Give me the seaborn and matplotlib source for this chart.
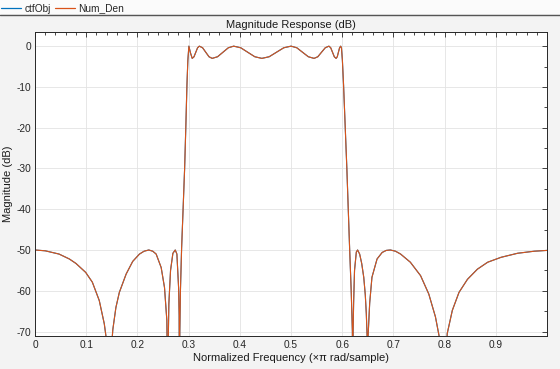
import numpy as np
import pandas as pd
import seaborn as sns
import matplotlib.pyplot as plt
from matplotlib.ticker import MultipleLocator
from matplotlib.lines import Line2D

# magnitude response (freq in xpi rad/sample, dB)
freq = [0.000, 0.020, 0.047, 0.067, 0.080, 0.099, 0.112, 0.1255, 0.1353, 0.1395,
        0.145, 0.1505, 0.152, 0.158, 0.1647, 0.178, 0.1908, 0.204, 0.213, 0.2222,
        0.230, 0.2366, 0.2464, 0.2529, 0.2575, 0.2595, 0.2605, 0.2614, 0.2647, 0.2693,
        0.2739, 0.2771, 0.2804, 0.2815, 0.2822, 0.2828, 0.2840, 0.2863, 0.2892, 0.2922,
        0.2945, 0.2967, 0.2985, 0.3005, 0.3035, 0.3070, 0.3105, 0.3140, 0.3175, 0.3210,
        0.3273, 0.3335, 0.3398, 0.3460, 0.3565, 0.3670, 0.3775, 0.3880, 0.4018, 0.4155,
        0.4293, 0.4430, 0.4573, 0.4715, 0.4858, 0.5000, 0.5113, 0.5225, 0.5338, 0.5450,
        0.5523, 0.5595, 0.5668, 0.5740, 0.5775, 0.5810, 0.5845, 0.5880, 0.5903, 0.5925,
        0.5948, 0.5970, 0.5985, 0.6003, 0.6026, 0.6090, 0.6144, 0.6175, 0.6198, 0.6205,
        0.6212, 0.6222, 0.6240, 0.6275, 0.6300, 0.6340, 0.6380, 0.6420, 0.6450, 0.6470,
        0.6485, 0.6495, 0.6505, 0.6536, 0.6580, 0.6680, 0.6780, 0.6860, 0.6940, 0.7040,
        0.7140, 0.7330, 0.7530, 0.7690, 0.7820, 0.7890, 0.7970, 0.8050, 0.8150, 0.8280,
        0.8445, 0.8640, 0.8840, 0.9100, 0.9425, 0.9750, 1.000]
mag_db = [-50.0, -50.2, -51.0, -52.2, -53.3, -55.5, -57.9, -62.4, -68.1, -72.0,
          -95.0, -72.0, -69.5, -64.1, -60.4, -55.9, -52.8, -51.0, -50.3, -50.0,
          -50.3, -51.0, -54.3, -59.2, -67.3, -95.0, -70.0, -63.2, -55.0, -50.8,
          -50.0, -51.0, -59.2, -66.0, -95.0, -70.0, -60.0, -49.6, -40.0, -30.0,
          -20.0, -9.6, -3.5, 0.0, -1.6, -3.0, -2.6, -1.5, -0.4, 0.0,
          -0.4, -1.5, -2.6, -3.0, -2.6, -1.5, -0.4, 0.0, -0.4, -1.5,
          -2.6, -3.0, -2.6, -1.5, -0.4, 0.0, -0.4, -1.5, -2.6, -3.0,
          -2.6, -1.5, -0.4, 0.0, -0.4, -1.5, -2.6, -3.0, -2.6, -1.5,
          -0.4, 0.0, -0.5, -3.5, -9.6, -30.0, -49.6, -60.0, -70.0, -95.0,
          -70.0, -63.0, -55.0, -50.5, -50.0, -51.0, -53.3, -56.7, -61.0, -65.6,
          -71.0, -95.0, -71.0, -63.0, -56.7, -52.2, -50.6, -50.1, -50.0, -50.3,
          -51.0, -53.0, -56.3, -60.8, -66.4, -71.0, -95.0, -70.5, -64.8, -60.4,
          -57.2, -54.7, -53.0, -51.8, -50.8, -50.3, -50.1]
series = ["ctfObj", "Num_Den"]
colors = ["#0072BD", "#D95319"]

rows = []
for s in series:
    for f, m in zip(freq, mag_db):
        rows.append({"freq": f, "mag": m, "series": s})
df = pd.DataFrame(rows)

sns.set_theme(style="white")
plt.rcParams["font.family"] = ["Liberation Sans", "DejaVu Sans"]
plt.rcParams["axes.unicode_minus"] = False

fig = plt.figure(figsize=(5.6, 3.69), dpi=100, facecolor="#f3f3f3")
ax = fig.add_axes([0.0625, 0.0894, 0.9135, 0.8231])
ax.set_facecolor("white")

sns.lineplot(data=df, x="freq", y="mag", hue="series", palette=colors,
             estimator=None, sort=False, linewidth=0.8, legend=False, ax=ax)

ax.set_xlim(0, 0.999)
ax.set_ylim(-71.1, 3.4)
ax.set_xticks(np.arange(0, 1.0, 0.1))
ax.set_xticklabels(["0", "0.1", "0.2", "0.3", "0.4", "0.5", "0.6", "0.7", "0.8", "0.9"])
ax.set_yticks(range(-70, 1, 10))
ax.xaxis.set_minor_locator(MultipleLocator(0.02))
ax.yaxis.set_minor_locator(MultipleLocator(5))
ax.grid(True, which="major", color="#e3e3e3", linewidth=0.6)
ax.tick_params(which="both", direction="in", top=True, right=True,
               colors="#262626", labelsize=7.3, width=0.6, pad=3)
ax.tick_params(which="major", length=3.5)
ax.tick_params(which="minor", length=2)
for sp in ax.spines.values():
    sp.set_color("#262626")
    sp.set_linewidth(0.7)

ax.set_title("Magnitude Response (dB)", fontsize=8, color="#1a1a1a", pad=3)
ax.set_xlabel("Normalized Frequency (\u00d7\u03c0 rad/sample)", fontsize=8,
              color="#1a1a1a", labelpad=2)
ax.set_ylabel("Magnitude (dB)", fontsize=8, color="#1a1a1a", labelpad=2)

# legend strip at the top
strip = plt.Rectangle((0, 1 - 14 / 369), 1, 14 / 369, transform=fig.transFigure,
                      facecolor="#fbfbfb", edgecolor="none", zorder=0)
fig.patches.append(strip)
fig.add_artist(Line2D([0, 1], [1 - 14.5 / 369] * 2, transform=fig.transFigure,
                      color="#555555", linewidth=1.0))
handles = [Line2D([], [], color=c, linewidth=0.9) for c in colors]
fig.legend(handles, series, loc="upper left", bbox_to_anchor=(0.0, 0.993),
           ncol=2, frameon=False, fontsize=7.3, handlelength=2.0,
           handletextpad=0.3, columnspacing=0.4, borderpad=0.1,
           borderaxespad=0.0)

fig.savefig("out.png", dpi=100, facecolor=fig.get_facecolor())
